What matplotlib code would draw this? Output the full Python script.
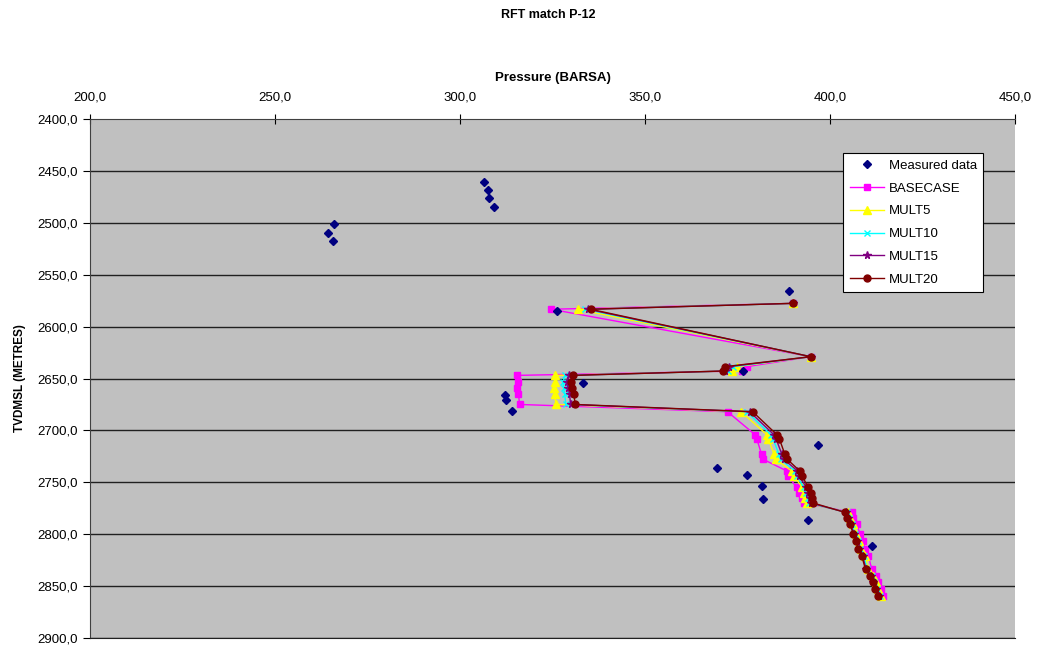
import matplotlib
matplotlib.use("Agg")
import matplotlib.pyplot as plt
from matplotlib.ticker import FuncFormatter, MultipleLocator

plt.rcParams['font.family'] = ['Liberation Sans', 'DejaVu Sans']

# ---------------- data ----------------
meas_p = [306.6, 307.7, 307.9, 309.1, 266.0, 264.3, 265.8, 388.9, 326.2, 376.5,
          333.3, 312.2, 312.5, 314.0, 396.7, 369.4, 377.6, 381.6, 381.9, 394.1, 411.4]
meas_d = [2461, 2468.7, 2476, 2485, 2501, 2509.5, 2517.5, 2565.7, 2585, 2643,
          2654, 2666, 2671, 2681, 2714, 2736, 2743, 2754, 2766, 2786, 2811]

depth = [2577.6, 2583.3, 2629.0, 2638.6, 2642.8, 2647, 2653, 2659, 2665, 2675,
         2682, 2704, 2708, 2723, 2728, 2739, 2744, 2755, 2760, 2765, 2770,
         2779, 2784, 2790, 2800, 2807, 2814, 2821, 2834, 2840, 2846, 2853, 2860]

basecase = [390.0, 324.6, 394.8, 377.5, 376.1, 315.3, 315.6, 315.5, 315.8, 316.1,
            372.3, 379.7, 380.2, 381.5, 382.0, 388.3, 388.7, 391.0, 391.7, 392.3, 393.0,
            405.9, 406.3, 407.2, 408.1, 408.8, 409.5, 410.4, 411.3, 412.4, 413.1, 413.7, 414.4]
mult5 = [390.0, 331.8, 394.8, 374.8, 373.4, 325.7, 325.7, 325.5, 325.6, 325.9,
         376.0, 382.9, 383.3, 384.9, 385.4, 389.6, 390.3, 392.5, 393.0, 393.3, 393.8,
         404.9, 405.5, 406.2, 407.1, 407.8, 408.4, 409.4, 410.4, 411.6, 412.3, 413.0, 413.9]
mult10 = [390.0, 333.8, 394.8, 373.8, 372.5, 328.4, 327.9, 328.0, 328.3, 328.6,
          377.5, 384.0, 384.6, 386.2, 386.7, 390.5, 391.0, 393.0, 393.5, 394.0, 394.3,
          404.6, 405.2, 405.9, 406.8, 407.5, 408.1, 409.1, 410.1, 411.3, 412.0, 412.7, 413.6]
mult15 = [390.0, 334.6, 394.8, 372.6, 371.7, 329.5, 329.0, 329.2, 329.6, 329.9,
          378.3, 384.8, 385.4, 387.0, 387.6, 391.2, 391.7, 393.6, 394.1, 394.5, 394.8,
          404.3, 404.9, 405.6, 406.5, 407.2, 407.8, 408.8, 409.8, 411.0, 411.7, 412.4, 413.3]
mult20 = [390.0, 335.3, 394.8, 371.6, 371.0, 330.6, 330.0, 330.2, 330.8, 331.1,
          379.1, 385.6, 386.3, 387.8, 388.5, 391.8, 392.5, 394.1, 394.8, 395.2, 395.5,
          404.1, 404.7, 405.4, 406.3, 407.0, 407.6, 408.6, 409.6, 410.8, 411.5, 412.2, 413.1]

series = [
    ("BASECASE", basecase, "#FF00FF", "s", 5.0),
    ("MULT5", mult5, "#FFFF00", "^", 5.5),
    ("MULT10", mult10, "#00FFFF", "x", 4.5),
    ("MULT15", mult15, "#800080", "*", 5.5),
    ("MULT20", mult20, "#800000", "o", 5.0),
]

# ---------------- figure ----------------
fig = plt.figure(figsize=(10.42, 6.51), dpi=100)
ax = fig.add_axes([90/1042, 1-638/651, (1015-90)/1042, (638-119)/651])
ax.set_facecolor("#C0C0C0")

ax.set_xlim(200, 450)
ax.set_ylim(2900, 2400)

for y in range(2450, 2901, 50):
    ax.axhline(y, color="#202020", lw=1.0, zorder=1)

ax.plot(meas_p, meas_d, linestyle="none", marker="D", color="#000080",
        markersize=4.2, label="Measured data", zorder=6)
for name, vals, col, mk, ms in series:
    ax.plot(vals, depth, color=col, lw=1.0, marker=mk, markersize=ms,
            markeredgecolor=col, markerfacecolor=col, label=name, zorder=3)

ax.xaxis.tick_top()
ax.xaxis.set_label_position("top")
ax.xaxis.set_major_locator(MultipleLocator(50))
ax.yaxis.set_major_locator(MultipleLocator(50))
fmt = FuncFormatter(lambda v, p: f"{v:.1f}".replace(".", ","))
ax.xaxis.set_major_formatter(fmt)
ax.yaxis.set_major_formatter(fmt)
ax.tick_params(axis="x", direction="inout", length=7, labelsize=9.5, pad=8, colors="black")
ax.tick_params(axis="y", direction="out", length=5, labelsize=9.5, pad=4, colors="black")

ax.spines["right"].set_visible(False)
ax.spines["bottom"].set_color("#202020")
ax.spines["top"].set_color("#404040")
ax.spines["left"].set_color("#404040")

ax.set_xlabel("Pressure (BARSA)", fontsize=9.5, fontweight="bold", labelpad=7)
ax.set_ylabel("TVDMSL (METRES)", fontsize=8.5, fontweight="bold", labelpad=8)
fig.text(548/1042, 1-15/651, "RFT match P-12", ha="center", va="center",
         fontsize=9, fontweight="bold")

leg = ax.legend(loc="upper left", bbox_to_anchor=(843/1042, 1-153/651),
                bbox_transform=fig.transFigure, fontsize=9.5, frameon=True,
                fancybox=False, edgecolor="black", facecolor="white", framealpha=1,
                borderpad=0.5, labelspacing=0.8, handlelength=2.6, handletextpad=0.35,
                borderaxespad=0)
leg.get_frame().set_linewidth(0.8)
leg.set_zorder(10)

fig.savefig("out.png", dpi=100)
